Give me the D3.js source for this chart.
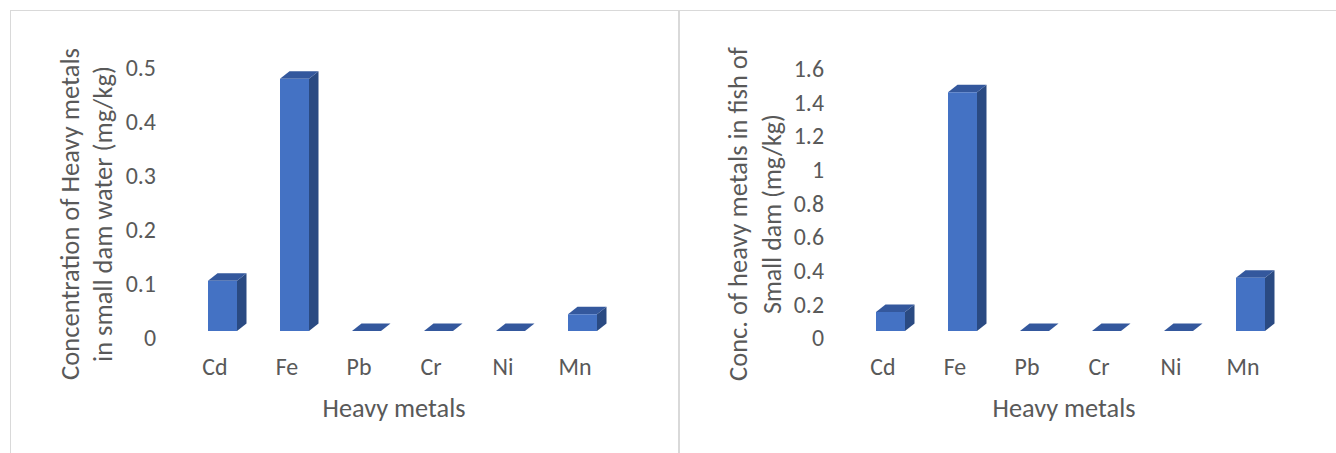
<!DOCTYPE html>
<html>
<head>
<meta charset="utf-8">
<script src="https://cdn.jsdelivr.net/npm/d3@7"></script>
<style>
  body { margin: 0; background: #fff; }
  svg { display: block; }
  text { font-family: Carlito, Calibri, "Open Sans", sans-serif; fill: #595959; }
</style>
</head>
<body>
<svg id="chart" width="1336" height="453"></svg>
<script>
// data
var metals = ["Cd", "Fe", "Pb", "Cr", "Ni", "Mn"];
var waterValues = [0.093, 0.467, 0, 0, 0, 0.031];
var fishValues = [0.113, 1.42, 0, 0, 0, 0.317];
var waterTicks = [0, 0.1, 0.2, 0.3, 0.4, 0.5];
var fishTicks = [0, 0.2, 0.4, 0.6, 0.8, 1, 1.2, 1.4, 1.6];
var xTitle = "Heavy metals";
var waterTitle = ["Concentration of Heavy metals", "in small dam water (mg/kg)"];
var fishTitle = ["Conc. of heavy metals in fish of", "Small dam (mg/kg)"];

var svg = d3.select("#chart");
var front = "#4472C4", top_ = "#34589D", side = "#2A4A82";
var dx = 9.5, dy = -7.5, barW = 29;

// chart frames
svg.append("rect").attr("x", 10.5).attr("y", 10.5).attr("width", 668).attr("height", 460)
  .attr("fill", "none").attr("stroke", "#d9d9d9");
svg.append("rect").attr("x", 679.5).attr("y", 10.5).attr("width", 700).attr("height", 460)
  .attr("fill", "none").attr("stroke", "#d9d9d9");

// shrink/grow font so the text spans the width seen in the picture
function fit(sel, w) {
  sel.attr("font-size", 20);
  var len = sel.node().getComputedTextLength();
  sel.attr("font-size", 20 * w / len);
  return 20 * w / len;
}

function drawChart(cfg) {
  var g = svg.append("g");
  var x = d3.scaleBand().domain(metals).range(cfg.xRange);
  var y = d3.scaleLinear().domain([0, cfg.max]).range([331, cfg.yTop]);

  var titleSize = 0;
  // y title, two lines
  cfg.title.forEach(function(t, i) {
    var tt = g.append("text")
      .attr("transform", "translate(" + cfg.titleX[i] + ",214) rotate(-90)")
      .attr("text-anchor", "middle").attr("dy", "0.35em").text(t);
    var s = fit(tt, cfg.titleW[i]);
    if (i == 0) titleSize = s;
  });

  var xt = g.append("text").attr("x", cfg.xTitleX).attr("y", 408)
    .attr("text-anchor", "middle").attr("dy", "0.35em").text(xTitle);
  fit(xt, 143);
  var tickSize = titleSize * 0.9;

  // value axis labels (sit slightly below the bars' front floor)
  var axis = d3.axisLeft(y).tickValues(cfg.ticks).tickSize(0).tickPadding(0)
    .tickFormat(function(d) { return String(d); });
  var ag = g.append("g").attr("transform", "translate(" + cfg.tickX + ",7)").call(axis);
  ag.select(".domain").remove();
  ag.selectAll("text").attr("font-size", tickSize).attr("fill", "#595959")
    .style("font-family", null);
  ag.attr("font-family", null);

  // category labels
  g.selectAll(".cat").data(metals).enter().append("text")
    .attr("x", function(d) { return x(d) + x.bandwidth() / 2; })
    .attr("y", 367).attr("dy", "0.35em").attr("text-anchor", "middle")
    .attr("font-size", tickSize).text(function(d) { return d; });

  // 3d columns
  var bars = g.selectAll(".bar").data(cfg.values).enter().append("g");
  bars.each(function(v, i) {
    var b = d3.select(this);
    var x0 = x(metals[i]) + x.bandwidth() / 2 - 7, x1 = x0 + barW;
    var yT = y(v), yB = y(0);
    b.append("polygon").attr("fill", side)
      .attr("points", [[x1, yT], [x1 + dx, yT + dy], [x1 + dx, yB + dy], [x1, yB]].join(" "));
    b.append("polygon").attr("fill", top_)
      .attr("points", [[x0, yT], [x0 + dx, yT + dy], [x1 + dx, yT + dy], [x1, yT]].join(" "));
    b.append("rect").attr("fill", front)
      .attr("x", x0).attr("y", yT).attr("width", barW).attr("height", yB - yT);
  });
}

drawChart({
  values: waterValues, max: 0.5, ticks: waterTicks, yTop: 61,
  xRange: [179, 611], tickX: 156, title: waterTitle,
  titleX: [70, 103], titleW: [332, 296], xTitleX: 394
});
drawChart({
  values: fishValues, max: 1.6, ticks: fishTicks, yTop: 62,
  xRange: [847, 1279], tickX: 824, title: fishTitle,
  titleX: [738, 772], titleW: [334, 200], xTitleX: 1064
});
</script>
</body>
</html>
